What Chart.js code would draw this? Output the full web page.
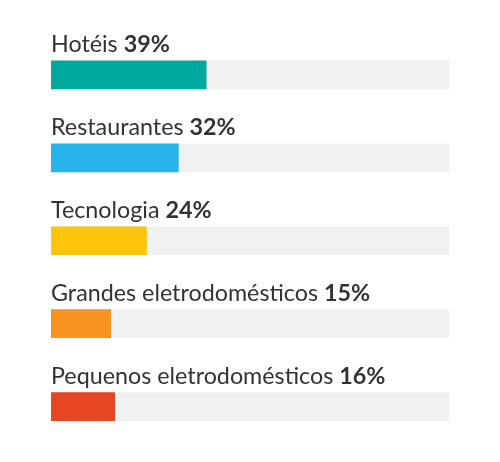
<!DOCTYPE html>
<html>
<head>
<meta charset="utf-8">
<script src="https://cdn.jsdelivr.net/npm/chart.js@4"></script>
<style>
  html, body { margin: 0; padding: 0; background: #fff; }
  #wrap { width: 500px; height: 462px; position: relative; }
</style>
</head>
<body>
<div id="wrap"><canvas id="barChart"></canvas></div>
<script>
const categories = ['Hotéis', 'Restaurantes', 'Tecnologia', 'Grandes eletrodomésticos', 'Pequenos eletrodomésticos'];
const shares = [39, 32, 24, 15, 16];
const barColors = ['#00a99d', '#27b4ea', '#ffc40c', '#f7931e', '#e64623'];
const trackValues = [100, 100, 100, 100, 100];

const labelFont = 'Lato';
const labelSize = 23.3;
const textColor = '#333333';

// draws "Category NN%" above each bar, the number in bold
const topLabels = {
  id: 'topLabels',
  afterDatasetsDraw(chart) {
    const ctx = chart.ctx;
    const meta = chart.getDatasetMeta(0);
    const left = chart.scales.x.getPixelForValue(0);
    ctx.save();
    ctx.fillStyle = textColor;
    ctx.textBaseline = 'alphabetic';
    ctx.textAlign = 'left';
    meta.data.forEach((bar, i) => {
      const top = bar.y - bar.height / 2;
      const y = top - 9;
      const name = categories[i] + ' ';
      ctx.font = `400 ${labelSize}px ${labelFont}`;
      ctx.fillText(name, left, y);
      const w = ctx.measureText(name).width;
      ctx.font = `700 ${labelSize}px ${labelFont}`;
      ctx.fillText(shares[i] + '%', left + w, y);
    });
    ctx.restore();
  }
};

new Chart(document.getElementById('barChart'), {
  type: 'bar',
  data: {
    labels: categories,
    datasets: [
      { data: shares, backgroundColor: barColors, barThickness: 28, grouped: false, borderWidth: 0 },
      { data: trackValues, backgroundColor: '#f0f1f1', barThickness: 28, grouped: false, borderWidth: 0 }
    ]
  },
  options: {
    indexAxis: 'y',
    responsive: true,
    maintainAspectRatio: false,
    animation: false,
    layout: { padding: { left: 51, right: 51, top: 33.5, bottom: 14 } },
    plugins: { legend: { display: false }, tooltip: { enabled: false } },
    scales: {
      x: { min: 0, max: 100, display: false },
      y: { display: false }
    }
  },
  plugins: [topLabels]
});
</script>
</body>
</html>
